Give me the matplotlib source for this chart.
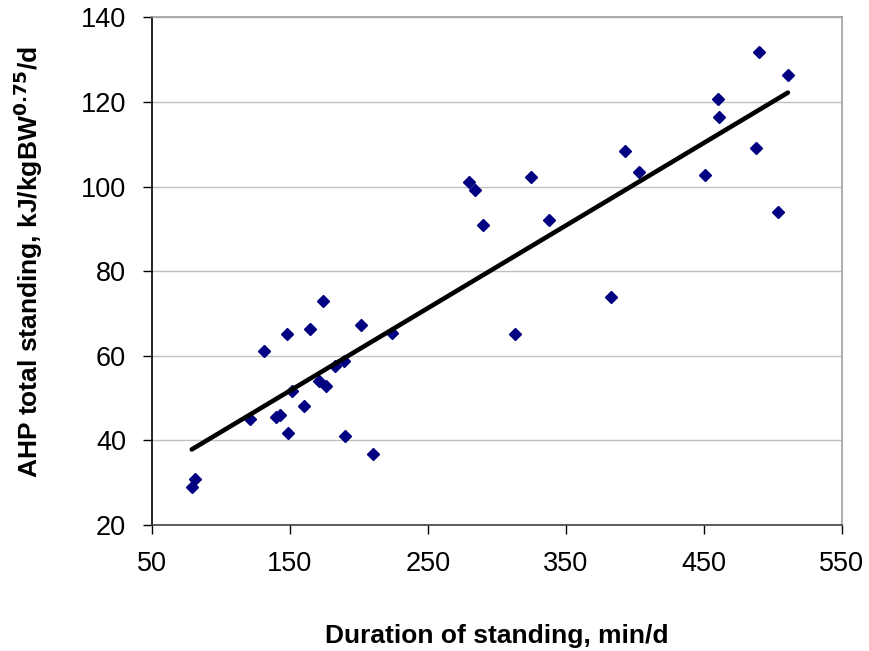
import numpy as np
import matplotlib
matplotlib.use("Agg")
import matplotlib.pyplot as plt

plt.rcParams['font.family'] = ['Liberation Sans', 'DejaVu Sans']

# duration of standing (min/d) and AHP total standing (kJ/kgBW^0.75/d)
duration = [81, 79, 121, 131, 140, 143, 148, 149, 152, 160, 165, 171, 174, 176,
            183, 189, 190, 202, 210, 224, 280, 284, 290, 313, 325, 338, 383,
            393, 403, 451, 460, 461, 488, 490, 504, 511]
ahp = [30.9, 29.0, 45.0, 61.0, 45.5, 46.0, 65.1, 41.7, 51.7, 48.0, 66.2, 54.1,
       73.0, 52.8, 57.6, 58.7, 40.9, 67.3, 36.8, 65.4, 101.0, 99.2, 91.0, 65.1,
       102.2, 92.2, 73.9, 108.5, 103.4, 102.7, 120.6, 116.4, 109.0, 131.8,
       93.9, 126.4]

x_ticks = [50, 150, 250, 350, 450, 550]
y_ticks = [20, 40, 60, 80, 100, 120, 140]

fig = plt.figure(figsize=(8.7, 6.51), dpi=100)
ax = fig.add_axes([0.1744, 0.1937, 0.7931, 0.7797])

# linear trend line
k, b = np.polyfit(duration, ahp, 1)
xs = np.array([min(duration), max(duration)])
ax.plot(xs, k * xs + b, color='black', lw=3.3, zorder=3, solid_capstyle='round')

ax.plot(duration, ahp, linestyle='none', marker='D', ms=6.5,
        color='#000080', zorder=2)

ax.set_xlim(50, 550)
ax.set_ylim(20, 140)
ax.set_xticks(x_ticks)
ax.set_yticks(y_ticks)
ax.yaxis.grid(True, color='#c0c0c0', lw=1)
ax.set_axisbelow(True)

ax.spines['left'].set_color('black')
ax.spines['bottom'].set_color('#404040')
ax.spines['top'].set_color('#a0a0a0')
ax.spines['right'].set_color('#a0a0a0')
for s in ax.spines.values():
    s.set_linewidth(1.2)

ax.tick_params(direction='out', length=6.5, width=1, labelsize=19.5)
ax.tick_params(axis='x', pad=12.5)
ax.tick_params(axis='y', pad=12)

ax.set_xlabel('Duration of standing, min/d', fontsize=19, fontweight='bold')
ax.set_ylabel(r'AHP total standing, kJ/kgBW$^{\mathbf{0.75}}$/d', fontsize=19,
              fontweight='bold')
ax.xaxis.label.set_va('baseline')
ax.xaxis.set_label_coords(0.5, -0.2327)
ax.yaxis.set_label_coords(-0.154, 0.518)

fig.savefig('out.png', dpi=100)
